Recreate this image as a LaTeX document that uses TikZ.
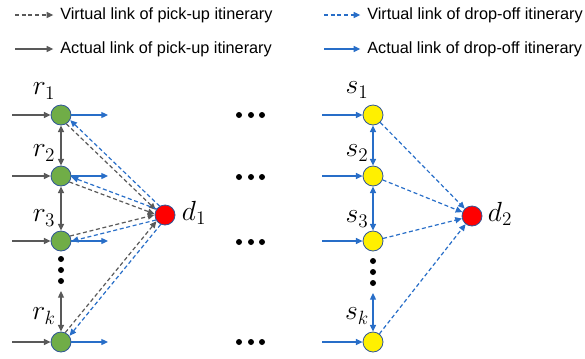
\documentclass[tikz,border=0pt]{standalone}
\usepackage{amsmath}
\usepackage{fontspec}
\setmainfont{Liberation Sans}
\usepackage{xcolor}
\usetikzlibrary{arrows.meta,calc}

\definecolor{linegray}{RGB}{89,89,89}
\definecolor{lineblue}{RGB}{40,110,200}
\definecolor{nodegreen}{RGB}{112,173,71}
\definecolor{nodeyellow}{RGB}{255,240,0}
\definecolor{rimblue}{RGB}{47,85,151}

\begin{document}
\begin{tikzpicture}[
								x=0.75pt, y=-0.75pt,
								tip/.style={-{Triangle[length=5pt, width=4.5pt]}},
								rnode/.style = {draw=rimblue, fill=nodegreen, circle, minimum size=15pt, inner sep=0pt, line width=0.6pt},
								snode/.style = {draw=rimblue, fill=nodeyellow, circle, minimum size=15pt, inner sep=0pt, line width=0.6pt},
								dnode/.style = {draw=rimblue, fill=red, circle, minimum size=15pt, inner sep=0pt, line width=0.6pt},
								dot/.style = {fill=black, circle, minimum size=4.5pt, inner sep=0pt},
								lab/.style = {font=\fontsize{21}{24}\selectfont, inner sep=0pt},
								legend/.style = {font=\fontsize{12.2}{14}\selectfont, anchor=west, inner sep=0pt},
								grayarrow/.style={draw=linegray, line width=0.9pt, tip},
								bluearrow/.style={draw=lineblue, line width=0.9pt, tip},
								graytwo/.style={draw=linegray, line width=0.9pt, {Triangle[length=5pt, width=4.5pt]}-{Triangle[length=5pt, width=4.5pt]}},
								bluetwo/.style={draw=lineblue, line width=0.9pt, {Triangle[length=5pt, width=4.5pt]}-{Triangle[length=5pt, width=4.5pt]}},
								vgray/.style={grayarrow, dash pattern=on 3pt off 2pt, shorten <=7.5pt, shorten >=7.7pt},
								vblue/.style={bluearrow, dash pattern=on 3pt off 2pt, shorten <=7.5pt, shorten >=7.7pt},
								vbluedrop/.style={bluearrow, dash pattern=on 3pt off 2pt}
								]
								\useasboundingbox (0,0) rectangle (585,358);
								
								% legend
								\node[legend] (t1) at (60,15) {Virtual link of pick-up itinerary};
								\node[legend] (t2) at (60,49) {Actual link of pick-up itinerary};
								\node[legend] (t3) at (367,15) {Virtual link of drop-off itinerary};
								\node[legend] (t4) at (367,49) {Actual link of drop-off itinerary};
								\coordinate (l1) at (15,15);
								\coordinate (l2) at (15,49);
								\coordinate (l3) at (324,15);
								\coordinate (l4) at (324,49);
								\draw[grayarrow, dash pattern=on 3pt off 2pt] (l1) -- ([xshift=-5]t1.west);
								\draw[grayarrow] (l2) -- ([xshift=-5]t2.west);
								\draw[bluearrow, dash pattern=on 3pt off 2pt] (l3) -- ([xshift=-5]t3.west);
								\draw[bluearrow] (l4) -- ([xshift=-5]t4.west);
								
								% pick-up side
								\node[rnode] (r1) at (61,115) {};
								\node[rnode] (r2) at (61,176) {};
								\node[rnode] (r3) at (61,241) {};
								\node[rnode] (rk) at (61,342) {};
								\node[dnode] (d1) at (165,215) {};
								\node[lab] (lr1) at (44,91) {$r_1$};
								\node[lab] (lr2) at (44,153) {$r_2$};
								\node[lab] (lr3) at (44,218) {$r_3$};
								\node[lab] (lrk) at (44,316) {$r_k$};
								\node[lab] (ld1) at (194,213) {$d_1$};
								\node[dot] (rdot1) at (61,259) {};
								\node[dot] (rdot2) at (61,270) {};
								\node[dot] (rdot3) at (61,281) {};
								\coordinate (rtop) at (61,291);
								
								\coordinate (r1-in) at (12,115);
								\coordinate (r2-in) at (12,176);
								\coordinate (r3-in) at (12,241);
								\coordinate (rk-in) at (12,342);
								\coordinate (r1-out) at (108,115);
								\coordinate (r2-out) at (108,176);
								\coordinate (r3-out) at (108,241);
								\coordinate (rk-out) at (108,342);
								
								\draw[grayarrow] (r1-in) -- (r1);
								\draw[grayarrow] (r2-in) -- (r2);
								\draw[grayarrow] (r3-in) -- (r3);
								\draw[grayarrow] (rk-in) -- (rk);
								\draw[bluearrow] (r1) -- (r1-out);
								\draw[bluearrow] (r2) -- (r2-out);
								\draw[bluearrow] (r3) -- (r3-out);
								\draw[bluearrow] (rk) -- (rk-out);
								\draw[graytwo] (r1) -- (r2);
								\draw[graytwo] (r2) -- (r3);
								\draw[graytwo] (rtop) -- (rk);
								
								% virtual links to and from d1
								\draw[vgray] ($(r1)!2pt!-90:(d1)$) -- ($(d1)!2pt!90:(r1)$);
								\draw[vblue] ($(d1)!2pt!-90:(r1)$) -- ($(r1)!2pt!90:(d1)$);
								\draw[vgray] ($(r2)!2pt!-90:(d1)$) -- ($(d1)!2pt!90:(r2)$);
								\draw[vblue] ($(d1)!2pt!-90:(r2)$) -- ($(r2)!2pt!90:(d1)$);
								\draw[vgray] ($(r3)!2pt!90:(d1)$) -- ($(d1)!2pt!-90:(r3)$);
								\draw[vblue] ($(d1)!2pt!90:(r3)$) -- ($(r3)!2pt!-90:(d1)$);
								\draw[vgray] ($(rk)!2pt!90:(d1)$) -- ($(d1)!2pt!-90:(rk)$);
								\draw[vblue] ($(d1)!2pt!90:(rk)$) -- ($(rk)!2pt!-90:(d1)$);
								
								% middle dots
								\node[dot] (m11) at (239,115) {};
								\node[dot] (m12) at (251,115) {};
								\node[dot] (m13) at (262,115) {};
								\node[dot] (m21) at (239,177) {};
								\node[dot] (m22) at (251,177) {};
								\node[dot] (m23) at (262,177) {};
								\node[dot] (m31) at (239,242) {};
								\node[dot] (m32) at (251,242) {};
								\node[dot] (m33) at (262,242) {};
								\node[dot] (m41) at (239,342) {};
								\node[dot] (m42) at (251,342) {};
								\node[dot] (m43) at (262,342) {};
								
								% drop-off side
								\node[snode] (s1) at (373,115) {};
								\node[snode] (s2) at (373,176) {};
								\node[snode] (s3) at (373,241) {};
								\node[snode] (sk) at (373,342) {};
								\node[dnode] (d2) at (472,216) {};
								\node[lab] (ls1) at (357,90) {$s_1$};
								\node[lab] (ls2) at (357,153) {$s_2$};
								\node[lab] (ls3) at (357,219) {$s_3$};
								\node[lab] (lsk) at (357,316) {$s_k$};
								\node[lab] (ld2) at (500,214) {$d_2$};
								\node[dot] (sdot1) at (373,261) {};
								\node[dot] (sdot2) at (373,272) {};
								\node[dot] (sdot3) at (373,283) {};
								\coordinate (stop) at (373,293);
								
								\coordinate (s1-in) at (322,115);
								\coordinate (s2-in) at (322,176);
								\coordinate (s3-in) at (322,241);
								\coordinate (sk-in) at (322,342);
								
								\draw[bluearrow] (s1-in) -- (s1);
								\draw[bluearrow] (s2-in) -- (s2);
								\draw[bluearrow] (s3-in) -- (s3);
								\draw[bluearrow] (sk-in) -- (sk);
								\draw[bluetwo] (s1) -- (s2);
								\draw[bluetwo] (s2) -- (s3);
								\draw[bluetwo] (stop) -- (sk);
								
								\draw[vbluedrop] (s1) -- (d2);
								\draw[vbluedrop] (s2) -- (d2);
								\draw[vbluedrop] (s3) -- (d2);
								\draw[vbluedrop] (sk) -- (d2);
							\end{tikzpicture}
\end{document}
